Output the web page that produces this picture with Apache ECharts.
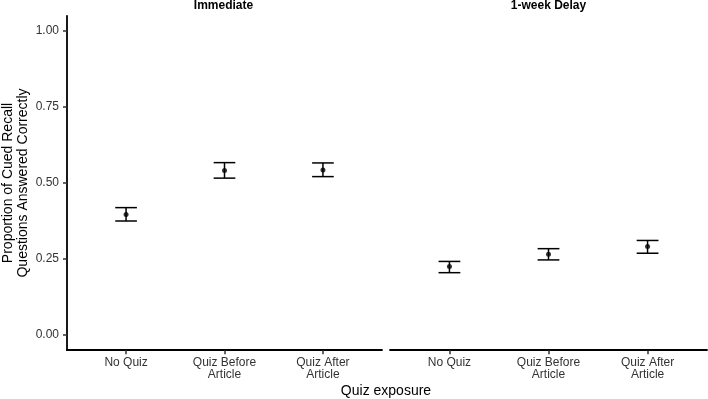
<!DOCTYPE html>
<html>
<head>
<meta charset="utf-8">
<script src="https://cdn.jsdelivr.net/npm/echarts@6/dist/echarts.min.js"></script>
<style>
  html, body { margin: 0; padding: 0; background: #fff; }
  #chart { width: 708px; height: 399px; }
</style>
</head>
<body>
<div id="chart"></div>
<script>
// data
const categories = ['No Quiz', 'Quiz Before\nArticle', 'Quiz After\nArticle'];
const panels = ['Immediate', '1-week Delay'];
const immediateMean = [0.396, 0.541, 0.543];
const immediateLower = [0.375, 0.516, 0.521];
const immediateUpper = [0.419, 0.567, 0.566];
const delayMean = [0.225, 0.266, 0.291];
const delayLower = [0.205, 0.247, 0.269];
const delayUpper = [0.242, 0.284, 0.311];
const yTicks = [0, 0.25, 0.5, 0.75, 1];

const font = '"Liberation Sans", Arial, Helvetica, sans-serif';
const catPos = categories.map((c, i) => i + 1);

function xAxisFor(idx) {
  return {
    type: 'value',
    gridIndex: idx,
    min: 0.4,
    max: 3.6,
    splitLine: { show: false },
    axisLine: { show: true, onZero: false, lineStyle: { color: '#000', width: 1.8 } },
    axisTick: { show: true, customValues: catPos, length: 4, lineStyle: { color: '#333', width: 1.5 } },
    axisLabel: {
      customValues: catPos,
      margin: 6,
      color: '#333',
      fontFamily: font,
      fontSize: 12,
      lineHeight: 12,
      formatter: v => categories[Math.round(v) - 1]
    }
  };
}

function yAxisFor(idx, visible) {
  return {
    type: 'value',
    gridIndex: idx,
    min: -0.05,
    max: 1.05,
    splitLine: { show: false },
    axisLine: { show: visible, lineStyle: { color: '#000', width: 1.8 } },
    axisTick: { show: visible, customValues: yTicks, length: 4, lineStyle: { color: '#333', width: 1.5 } },
    axisLabel: {
      show: visible,
      customValues: yTicks,
      margin: 8,
      color: '#333',
      fontFamily: font,
      fontSize: 12,
      formatter: v => v.toFixed(2)
    },
    name: visible ? 'Proportion of Cued Recall\nQuestions Answered Correctly' : '',
    nameLocation: 'middle',
    nameRotate: 90,
    nameGap: 36,
    nameTextStyle: { color: '#000', fontFamily: font, fontSize: 14, lineHeight: 15 }
  };
}

function errorBars(idx, lower, upper) {
  return {
    type: 'custom',
    xAxisIndex: idx,
    yAxisIndex: idx,
    data: catPos.map((x, i) => [x, lower[i], upper[i]]),
    renderItem: function (params, api) {
      const x = api.value(0);
      const lo = api.coord([x, api.value(1)]);
      const hi = api.coord([x, api.value(2)]);
      const hw = api.size([0.22, 0])[0] / 2;
      const style = { stroke: '#000', lineWidth: 1.5 };
      return {
        type: 'group',
        children: [
          { type: 'line', shape: { x1: lo[0], y1: lo[1], x2: hi[0], y2: hi[1] }, style: style },
          { type: 'line', shape: { x1: hi[0] - hw, y1: hi[1], x2: hi[0] + hw, y2: hi[1] }, style: style },
          { type: 'line', shape: { x1: lo[0] - hw, y1: lo[1], x2: lo[0] + hw, y2: lo[1] }, style: style }
        ]
      };
    },
    silent: true,
    z: 2
  };
}

function points(idx, mean) {
  return {
    type: 'scatter',
    xAxisIndex: idx,
    yAxisIndex: idx,
    data: catPos.map((x, i) => [x, mean[i]]),
    symbol: 'circle',
    symbolSize: 5,
    itemStyle: { color: '#000' },
    z: 3
  };
}

const chart = echarts.init(document.getElementById('chart'), null, { renderer: 'canvas' });
chart.setOption({
  backgroundColor: '#fff',
  animation: false,
  title: [
    { text: panels[0], left: 223.5, top: 0, textAlign: 'center', padding: 0,
      textStyle: { fontFamily: font, fontSize: 12, fontWeight: 'bold', color: '#000' } },
    { text: panels[1], left: 548.5, top: 0, textAlign: 'center', padding: 0,
      textStyle: { fontFamily: font, fontSize: 12, fontWeight: 'bold', color: '#000' } },
    { text: 'Quiz exposure', left: 386, top: 384, textAlign: 'center', padding: 0,
      textStyle: { fontFamily: font, fontSize: 14, fontWeight: 'normal', color: '#000' } }
  ],
  grid: [
    { left: 65, top: 15.8, width: 317, height: 334.4 },
    { left: 390, top: 15.8, width: 317, height: 334.4 }
  ],
  xAxis: [xAxisFor(0), xAxisFor(1)],
  yAxis: [yAxisFor(0, true), yAxisFor(1, false)],
  series: [
    errorBars(0, immediateLower, immediateUpper),
    points(0, immediateMean),
    errorBars(1, delayLower, delayUpper),
    points(1, delayMean)
  ]
});
</script>
</body>
</html>
